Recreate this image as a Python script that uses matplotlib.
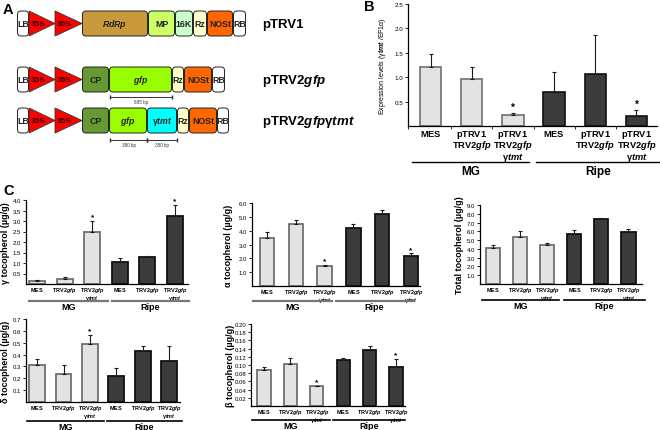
import numpy as np
import matplotlib
matplotlib.use("Agg")
import matplotlib.pyplot as plt
import matplotlib.transforms as mtransforms
from matplotlib.patches import FancyBboxPatch, Polygon

plt.rcParams['font.family'] = ['Liberation Sans', 'DejaVu Sans']
plt.rcParams['mathtext.fontset'] = 'custom'
plt.rcParams['mathtext.it'] = 'Liberation Sans:italic:bold'
plt.rcParams['mathtext.rm'] = 'Liberation Sans:bold'
plt.rcParams['mathtext.bf'] = 'Liberation Sans:bold'

W, H = 660, 431

# ---------------- data ----------------
# panel A: constructs (element names and their edges along the map, in px)
trv1_parts = ["LB", "35S", "35S", "RdRp", "MP", "16K", "Rz", "NOSt", "RB"]
trv1_edges = [17, 29, 55, 82, 148, 175, 193, 207, 233, 246]
trv2_parts = ["LB", "35S", "35S", "CP", "gfp", "Rz", "NOSt", "RB"]
trv2_edges = [17, 29, 55, 82, 109, 172, 184, 212, 225]
trv2t_parts = ["LB", "35S", "35S", "CP", "gfp", "γtmt", "Rz", "NOSt", "RB"]
trv2t_edges = [17, 29, 55, 82, 109, 147, 177, 189, 217, 229]
construct_names = ["pTRV1", "pTRV2$gfp$", "pTRV2$gfp$γ$tmt$"]

# panel B: expression levels
groups = ["MG", "Ripe"]
b_labels = [r"$\mathbf{MES}$", "$\\mathbf{pTRV1}$\n$\\mathbf{TRV2}gfp$",
            "$\\mathbf{pTRV1}$\n$\\mathbf{TRV2}gfp$\n$\\mathbf{γ}tmt$"] * 2
b_expr = [1.20, 0.97, 0.22, 0.70, 1.06, 0.20]
b_err = [0.27, 0.24, 0.05, 0.40, 0.80, 0.13]
b_sig = [False, False, True, False, False, True]

# panel C: tocopherol contents (µg/g)
c_labels = [r"$\mathbf{MES}$", r"$\mathbf{TRV2}gfp$", "$\\mathbf{TRV2}gfp$\n$\\mathbf{γ}tmt$"] * 2
gamma_toc = [0.15, 0.22, 2.50, 1.05, 1.27, 3.25]
gamma_err = [0.05, 0.10, 0.50, 0.17, 0.08, 0.50]
gamma_sig = [False, False, True, False, False, True]
alpha_toc = [3.45, 4.45, 1.45, 4.20, 5.20, 2.15]
alpha_err = [0.45, 0.35, 0.05, 0.30, 0.30, 0.20]
alpha_sig = [False, False, True, False, False, True]
total_toc = [4.10, 5.40, 4.50, 5.65, 7.40, 5.90]
total_err = [0.35, 0.60, 0.15, 0.45, 0.10, 0.40]
total_sig = [False] * 6
delta_toc = [0.315, 0.24, 0.49, 0.22, 0.43, 0.35]
delta_err = [0.045, 0.07, 0.075, 0.07, 0.04, 0.12]
delta_sig = [False, False, True, False, False, False]
beta_toc = [0.087, 0.103, 0.048, 0.113, 0.137, 0.094]
beta_err = [0.008, 0.015, 0.002, 0.005, 0.010, 0.020]
beta_sig = [False, False, True, False, False, True]

part_colors = {"LB": "white", "RB": "white", "35S": "#ff0000", "RdRp": "#c99a3c",
               "MP": "#ccff66", "16K": "#ccffcc", "Rz": "#ffffcc", "NOSt": "#ff6600",
               "CP": "#669933", "gfp": "#99ff00", "γtmt": "#00ffff"}
part_text = {"RdRp": "$RdRp$", "gfp": "$gfp$", "γtmt": "γ$tmt$"}

LIGHT, LIGHT_EDGE = "#e3e3e3", "#707070"
DARK, DARK_EDGE = "#3b3b3b", "#111111"

fig = plt.figure(figsize=(W / 100, H / 100), dpi=100)


def px_axes(left, top, right, bottom):
    return fig.add_axes([left / W, 1 - bottom / H, (right - left) / W, (bottom - top) / H])


# ---------------- panel A ----------------
ax_a = fig.add_axes([0, 0, 1, 1])
ax_a.set_xlim(0, W)
ax_a.set_ylim(H, 0)
ax_a.axis("off")


def draw_construct(parts, edges, top, h=25):
    for name, x0, x1 in zip(parts, edges[:-1], edges[1:]):
        if name == "35S":
            ax_a.add_patch(Polygon([(x0, top), (x0, top + h), (x1, top + h / 2)], closed=True,
                                   facecolor=part_colors[name], edgecolor="#333333", lw=0.6))
            ax_a.text(x0 + (x1 - x0) * 0.36, top + h / 2, "35S", ha="center", va="center",
                      fontsize=6, fontweight="bold", color="#300000")
        else:
            ax_a.add_patch(FancyBboxPatch((x0 + 0.5, top), x1 - x0 - 1, h,
                                          boxstyle="round,pad=0,rounding_size=3.5",
                                          facecolor=part_colors[name], edgecolor="#222222", lw=0.7))
            ax_a.text((x0 + x1) / 2, top + h / 2, part_text.get(name, name), ha="center",
                      va="center", fontsize=6.3, fontweight="bold", color="#222222")


def scale_bar(x0, x1, y, label):
    ax_a.plot([x0, x1], [y, y], color="#333333", lw=0.7, marker="|", markersize=2.5)
    ax_a.text((x0 + x1) / 2, y + 5, label, ha="center", va="center", fontsize=3.3,
              color="#333333")


row_tops = [12, 68, 109]
for parts, edges, top, name in zip([trv1_parts, trv2_parts, trv2t_parts],
                                   [trv1_edges, trv2_edges, trv2t_edges], row_tops,
                                   construct_names):
    draw_construct(parts, edges, top)
    ax_a.text(262, top + 13, name, ha="left", va="center", fontsize=9.5, fontweight="bold")

scale_bar(110, 172, 98, "695 bp")
scale_bar(110, 147, 141, "380 bp")
scale_bar(147, 177, 141, "350 bp")

for letter, (x, y) in zip("ABC", [(3, 10), (364, 7), (3, 191)]):
    fig.text(x / W, 1 - y / H, letter, fontsize=10.5, fontweight="bold", va="center")


# ---------------- bar panels ----------------
def bar_panel(ax, values, errs, sig, ylim, yticks, fmt, labels, xlim, width,
              tick_fs=4.3, label_fs=4.0, lw=1.3, star_fs=6, pad=0.6, spacing=0.8):
    x = np.arange(len(values))
    face = [LIGHT] * 3 + [DARK] * 3
    edge = [LIGHT_EDGE] * 3 + [DARK_EDGE] * 3
    ax.bar(x, values, width, color=face, edgecolor=edge, linewidth=lw, zorder=2)
    ax.errorbar(x, values, yerr=[np.zeros(len(values)), errs], fmt="none", ecolor="#1a1a1a",
                elinewidth=0.8, capsize=1.6, capthick=0.8, zorder=3)
    for xi, v, e, s in zip(x, values, errs, sig):
        if s:
            ax.annotate("*", (xi, v + e), xytext=(0, 0.5), textcoords="offset points",
                        ha="center", va="bottom", fontsize=star_fs, fontweight="bold")
    ax.set_xlim(*xlim)
    ax.set_ylim(*ylim)
    ax.set_yticks(yticks)
    ax.set_yticklabels([fmt % t for t in yticks])
    ax.set_xticks(x)
    ax.set_xticklabels(labels, fontsize=label_fs, fontweight="bold", linespacing=spacing)
    ax.tick_params(axis="x", length=0, pad=pad)
    ax.tick_params(axis="y", direction="out", length=2, width=0.6, labelsize=tick_fs, pad=1.5)
    for side in ["top", "right"]:
        ax.spines[side].set_visible(False)
    for side in ["left", "bottom"]:
        ax.spines[side].set_linewidth(0.9)
    ax.set_facecolor("none")


def group_lines(ax, spans, dy_line, dy_text, fs, lw, color):
    base = mtransforms.blended_transform_factory(ax.transData, ax.transAxes)
    tl = base + mtransforms.ScaledTranslation(0, -dy_line / 100, fig.dpi_scale_trans)
    tt = base + mtransforms.ScaledTranslation(0, -dy_text / 100, fig.dpi_scale_trans)
    for (a, b), name in zip(spans, groups):
        ax.plot([a, b], [0, 0], transform=tl, clip_on=False, color=color, lw=lw)
        ax.text((a + b) / 2, 0, name, transform=tt, ha="center", va="center",
                fontsize=fs, fontweight="bold")


def ylabel_at(ax, text, x_px, left, right, fs):
    ax.set_ylabel(text, fontsize=fs, fontweight="bold")
    ax.yaxis.set_label_coords((x_px - left) / (right - left), 0.5)


# B
axb = px_axes(408, 5, 657, 127)
bar_panel(axb, b_expr, b_err, b_sig, (0, 2.5), [0.5, 1.0, 1.5, 2.0, 2.5], "%.1f", b_labels,
          (-0.55, 5.5), 0.52, tick_fs=4.5, label_fs=6.7, lw=1.2, star_fs=7, pad=1.5,
          spacing=0.82)
axb.set_xticks([-0.55, 0.5, 1.5, 2.5, 3.5, 4.5], minor=True)
axb.tick_params(axis="x", which="minor", direction="out", length=2, width=0.6)
axb.set_ylabel("Expression levels (γ$tmt$ /EF1α)", fontsize=5)
axb.yaxis.set_label_coords((388 - 408) / (657 - 408), 0.5)
group_lines(axb, [(-0.45, 2.4), (2.55, 5.6)], 36, 45, 8.5, 1.0, "black")

# C row 1
ax1 = px_axes(26, 201, 188, 285)
bar_panel(ax1, gamma_toc, gamma_err, gamma_sig, (0, 4.0), np.arange(0.5, 4.01, 0.5), "%.1f",
          c_labels, (-0.4, 5.47), 0.58)
ylabel_at(ax1, "γ tocopherol (µg/g)", 10, 26, 188, 6.5)
group_lines(ax1, [(-0.3, 2.57), (2.72, 5.5)], 17, 23, 6.5, 1.6, "#777777")

ax2 = px_axes(252, 204, 420, 287)
bar_panel(ax2, alpha_toc, alpha_err, alpha_sig, (0, 6.0), np.arange(1.0, 6.01, 1.0), "%.1f",
          c_labels, (-0.52, 5.31), 0.5)
ylabel_at(ax2, "α tocopherol (µg/g)", 233, 252, 420, 6.5)
group_lines(ax2, [(-0.49, 2.26), (2.4, 5.07)], 15, 21, 6.5, 1.6, "#777777")

ax3 = px_axes(480, 206, 642, 285)
bar_panel(ax3, total_toc, total_err, total_sig, (0, 9.0), np.arange(1.0, 9.01, 1.0), "%.1f",
          c_labels, (-0.49, 5.5), 0.52)
ylabel_at(ax3, "Total tocopherol (µg/g)", 464, 480, 642, 6.5)
group_lines(ax3, [(-0.41, 2.44), (2.63, 5.6)], 16, 22, 6.5, 1.2, "black")

# C row 2
ax4 = px_axes(26, 320, 180, 403)
bar_panel(ax4, delta_toc, delta_err, delta_sig, (0, 0.7), np.arange(0.1, 0.71, 0.1), "%.1f",
          c_labels, (-0.42, 5.41), 0.6)
ylabel_at(ax4, "δ tocopherol (µg/g)", 10, 26, 180, 6.5)
group_lines(ax4, [(-0.38, 2.53), (2.65, 5.49)], 19, 25, 6.5, 1.2, "black")

ax5 = px_axes(251, 325, 405, 407)
bar_panel(ax5, beta_toc, beta_err, beta_sig, (0, 0.2), np.arange(0.02, 0.201, 0.02), "%.2f",
          c_labels, (-0.49, 5.34), 0.5)
ylabel_at(ax5, "β tocopherol (µg/g)", 235, 251, 405, 6.5)
group_lines(ax5, [(-0.45, 2.5), (2.62, 5.34)], 14, 20, 6.5, 1.2, "black")

fig.savefig("out.png", dpi=100)
